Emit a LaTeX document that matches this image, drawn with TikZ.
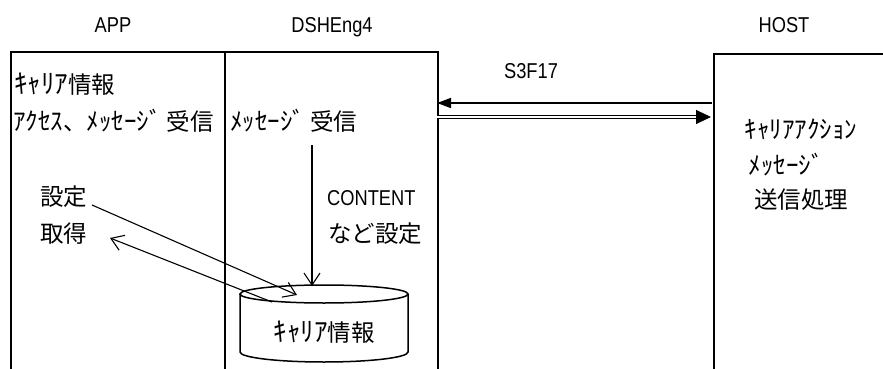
\documentclass[tikz,border=0pt]{standalone}
\usepackage{fontspec}
\usetikzlibrary{arrows.meta}
\newfontfamily\jp{Noto Sans CJK JP}
\newfontfamily\latn[FakeStretch=0.85]{Liberation Sans}
\newcommand\hk[1]{{\fontsize{27}{27}\selectfont #1}}
\newcommand\hks[1]{{\fontsize{25}{25}\selectfont #1}}
\begin{document}
\begin{tikzpicture}[x=1pt,y=-1pt,
  box/.style={draw, line width=1.6pt, anchor=north west, inner sep=0pt},
  lat/.style={font=\latn\fontsize{21.5}{25}\selectfont, inner sep=0pt},
  jtxt/.style={font=\jp\fontsize{23.5}{27}\selectfont, inner sep=0pt},
  arr/.style={line width=1.1pt, -{Straight Barb[length=12pt,width=16pt,line width=1.1pt]}},
  thick line/.style={line width=1.5pt}
  ]
\useasboundingbox (0,0) rectangle (883,369);
\clip (0,0) rectangle (883,369);
% lanes
\node[box, minimum width=214pt, minimum height=340pt] (app) at (10,51) {};
\node[box, minimum width=213pt, minimum height=340pt] (dsh) at (224,51) {};
\node[box, minimum width=200pt, minimum height=340pt] (host) at (713,53) {};
% titles
\node[lat, anchor=base] (lapp) at (113,33) {APP};
\node[lat, anchor=base] (ldsh) at (332,33) {DSHEng4};
\node[lat, anchor=base] (lhost) at (784,33) {HOST};
% APP text
\node[jtxt, anchor=base west] (a1) at (14,93) {\hk{ｷｬﾘｱ}情報};
\node[jtxt, anchor=base west] (a2) at (13,130) {\hks{ｱｸｾｽ}、\hks{ﾒｯｾｰｼﾞ} 受信};
\node[jtxt, anchor=west] (set) at (40,197) {設定};
\node[jtxt, anchor=west] (get) at (40,234) {取得};
% DSHEng4 text
\node[jtxt, anchor=base west] (d1) at (230,130) {\hks{ﾒｯｾｰｼﾞ} 受信};
\node[lat, anchor=base west] (cont) at (327,205) {CONTENT};
\node[jtxt, anchor=west] (nado) at (328,234) {など設定};
% HOST text
\node[jtxt, anchor=base] (h1) at (801,138) {\hks{ｷｬﾘｱｱｸｼｮﾝ}};
\node[jtxt, anchor=base] (h2) at (786,174) {\hks{ﾒｯｾｰｼﾞ}};
\node[jtxt, anchor=center] (h3) at (801,200) {送信処理};
% message label
\node[lat, anchor=base] (s3f17) at (531,78) {S3F17};
% database cylinder
\draw[thick line, fill=white] (240,294) -- (240,352) arc[start angle=180, end angle=0, x radius=84, y radius=10] -- (408,294);
\draw[thick line] (324,294) ellipse [x radius=84, y radius=9];
\node[jtxt, anchor=base] (db) at (324,341) {\hk{ｷｬﾘｱ}情報};
% connector points
\coordinate (vtop) at (312,145);
\coordinate (dbtop) at (312,286);
\coordinate (setend) at (92,205);
\coordinate (dbin) at (297,295);
\coordinate (dbfront) at (272,302);
\coordinate (getend) at (110,238);
\coordinate (dshr1) at (437,103);
\coordinate (hostl1) at (712,103);
\coordinate (dshr2) at (437,117);
\coordinate (hostl2) at (711,117);
% arrows
\draw[arr] (vtop) -- (dbtop);
\draw[arr] (setend) -- (dbin);
\draw[arr] (dbfront) -- (getend);
\draw[line width=1.6pt, -{Triangle[length=14pt,width=10pt]}] (hostl1) -- (dshr1);
\draw[double, double distance=1.6pt, line width=0.9pt, -{Triangle[length=15pt,width=14pt]}] (dshr2) -- (hostl2);
\end{tikzpicture}
\end{document}
